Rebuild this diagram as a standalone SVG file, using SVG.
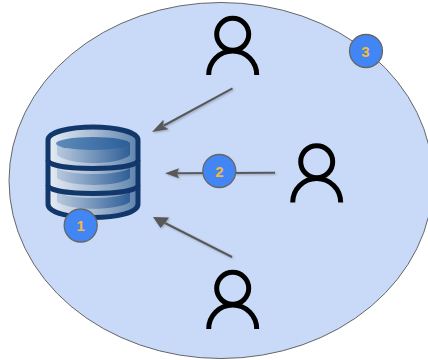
<svg xmlns="http://www.w3.org/2000/svg" width="428" height="360" viewBox="0 0 428 360">
<defs>
<linearGradient id="rim" x1="0" x2="1" y1="0" y2="0"><stop offset="0" stop-color="#e6edf5"/><stop offset="0.5" stop-color="#a9bcd4"/><stop offset="1" stop-color="#5f83ad"/></linearGradient>
<linearGradient id="band" x1="0" x2="1" y1="0" y2="0"><stop offset="0" stop-color="#b9c9de"/><stop offset="1" stop-color="#2f5f97"/></linearGradient>
<linearGradient id="top" x1="0" x2="1" y1="0" y2="0"><stop offset="0" stop-color="#5d8bbb"/><stop offset="1" stop-color="#2c5e98"/></linearGradient>
<filter id="soft" x="-30%" y="-30%" width="160%" height="160%"><feDropShadow dx="1" dy="1" stdDeviation="1" flood-color="#000" flood-opacity="0.25"/></filter>
<g id="person"><circle cx="0" cy="0" r="16" fill="none" stroke="#000" stroke-width="5"/><path d="M-24 40.700A24 24 0 0 1 24 40.700" fill="none" stroke="#000" stroke-width="5"/></g>
</defs>
<style>
.badge{fill:#4285f4;stroke:#666;stroke-width:1.300}
.num{font:bold 15px "Liberation Sans",Arial,sans-serif;fill:#f4b942;text-anchor:middle}
.link{stroke:#595959;stroke-width:2;fill:none}
.head{fill:#595959}
.db{stroke:#12386b;stroke-width:5;fill:none}
</style>
<rect width="428" height="360" fill="#fff"/>
<g id="boundary"><ellipse cx="221" cy="180.500" rx="212" ry="178" fill="#c9daf8" stroke="#666" stroke-width="1"/></g>
<g id="connectors" filter="url(#soft)">
<line class="link" x1="232.500" y1="88.300" x2="164" y2="125.500"/>
<path class="head" d="M152 132L163.400 119.700L163.500 126L168.600 129.300Z"/>
<line class="link" x1="275" y1="172.800" x2="177" y2="173.300"/>
<path class="head" d="M165 173.300L179 168.300L177 173.300L179 178.300Z"/>
<line class="link" x1="232" y1="257" x2="165" y2="223"/>
<path class="head" d="M153 217L169 217.500L165 223L160.500 228Z"/>
</g>
<g id="database">
<path d="M48 140C48 132 70 127 93 127C116 127 138 132 138 140V204C138 213 116 217.500 93 217.500C70 217.500 48 213 48 204Z" fill="url(#rim)"/>
<path d="M57 143H130V155C118 165.700 70 165.700 57 155Z" fill="url(#band)"/>
<ellipse cx="93" cy="143.500" rx="37" ry="6.500" fill="url(#top)"/>
<path d="M57 168C70 176 118 176 130 168V178C118 187.300 70 187.300 57 178Z" fill="url(#band)"/>
<path d="M57 192C70 200 118 200 130 192V202C118 211 70 211 57 202Z" fill="url(#band)"/>
<path class="db" d="M48 140C48 132 70 127 93 127C116 127 138 132 138 140V204C138 213 116 217.500 93 217.500C70 217.500 48 213 48 204Z"/>
<path class="db" d="M48 160C48 166 70 168.500 93 168.500C116 168.500 138 166 138 160"/>
<path class="db" d="M48 185C48 191 70 193.500 93 193.500C116 193.500 138 191 138 185"/>
</g>
<g id="user-top"><use href="#person" x="232.700" y="34.300"/></g>
<g id="user-right"><use href="#person" x="316.700" y="161.700"/></g>
<g id="user-bottom"><use href="#person" x="232.700" y="288.300"/></g>
<g id="badge-1"><circle class="badge" cx="80.700" cy="225.500" r="16.500"/><text class="num" x="80.700" y="231">1</text></g>
<g id="badge-2"><circle class="badge" cx="219.300" cy="171" r="16.500"/><text class="num" x="219.300" y="176.500">2</text></g>
<g id="badge-3"><circle class="badge" cx="366" cy="51" r="16.500"/><text class="num" x="365.500" y="56.500">3</text></g>
</svg>
